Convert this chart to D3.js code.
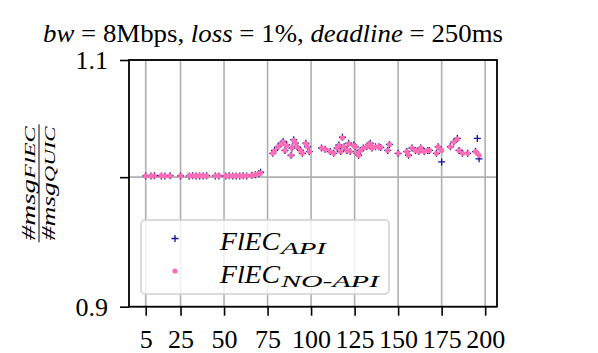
<!DOCTYPE html>
<html>
<head>
<meta charset="utf-8">
<script src="https://cdn.jsdelivr.net/npm/d3@7"></script>
<style>
  body { margin: 0; background: #fff; }
  svg text { font-family: "Liberation Serif", "DejaVu Serif", serif; }
</style>
</head>
<body>
<script>
// message count x values (shared by both series)
var xValues = [5, 8, 10, 14, 16, 19, 25, 30, 32, 34, 36, 38, 40, 45, 47, 51, 53, 55, 57, 59, 61, 63, 66, 68, 70, 71,
  78, 79, 81, 83, 84, 85, 86, 88.5, 89, 90, 91, 92, 94, 95, 97, 98, 99,
  106, 108, 111, 113, 115, 116, 117, 118, 119, 120.6, 121.6, 122.5, 124.5, 125.4, 126.4, 127.3, 128.3, 130, 132, 133, 134, 135, 137, 139, 140,
  144, 145, 150, 155, 156, 158, 160, 162, 163, 165, 167, 168, 172, 173, 175, 180, 182, 184, 185, 187, 190, 194.5, 195.5, 196.5];

var apiValues = [1.001, 1.001, 1.0012, 1.001, 1.001, 1.0012, 1.001, 1.001, 1.0012, 1.001, 1.001, 1.001, 1.0012, 1.001, 1.001, 1.001, 1.0012, 1.001, 1.001, 1.001, 1.0012, 1.001, 1.0015, 1.002, 1.003, 1.004,
  1.0196, 1.022, 1.025, 1.028, 1.0295, 1.022, 1.0265, 1.018, 1.024, 1.031, 1.028, 1.025, 1.022, 1.0196, 1.028, 1.025, 1.021,
  1.024, 1.023, 1.021, 1.0196, 1.024, 1.0265, 1.021, 1.033, 1.025, 1.022, 1.028, 1.021, 1.0265, 1.025, 1.0196, 1.018, 1.022, 1.024, 1.025, 1.0265, 1.028, 1.024, 1.025, 1.025, 1.0245,
  1.022, 1.027, 1.0196, 1.021, 1.018, 1.024, 1.022, 1.021, 1.024, 1.021, 1.022, 1.022, 1.0196, 1.025, 1.0125, 1.025, 1.029, 1.032, 1.022, 1.0196, 1.0196, 1.021, 1.032, 1.015];

var noApiValues = [1.001, 1.001, 1.001, 1.0012, 1.001, 1.001, 1.001, 1.0012, 1.001, 1.001, 1.0012, 1.001, 1.001, 1.001, 1.0012, 1.001, 1.001, 1.001, 1.0012, 1.001, 1.001, 1.0012, 1.0015, 1.002, 1.003, 1.0035,
  1.0196, 1.0215, 1.025, 1.0275, 1.029, 1.022, 1.026, 1.018, 1.024, 1.0305, 1.028, 1.025, 1.022, 1.0196, 1.0275, 1.025, 1.021,
  1.024, 1.023, 1.021, 1.0196, 1.024, 1.026, 1.021, 1.0325, 1.025, 1.022, 1.0275, 1.021, 1.026, 1.025, 1.0196, 1.018, 1.022, 1.024, 1.025, 1.026, 1.0275, 1.024, 1.025, 1.025, 1.0245,
  1.022, 1.027, 1.0196, 1.021, 1.018, 1.024, 1.022, 1.021, 1.024, 1.021, 1.022, 1.022, 1.0196, 1.025, 1.022, 1.025, 1.029, 1.0315, 1.022, 1.0196, 1.0196, 1.021, 1.0196, 1.018];

var xTicks = [5, 25, 50, 75, 100, 125, 150, 175, 200];
var yTicks = [0.9, 1.0, 1.1];
var yTickLabels = ['0.9', '', '1.1'];
var seriesNames = ['API', 'NO-API'];

//setup size
var W = 598, H = 353;
var margin = {top: 60, left: 129, right: 101, bottom: 46};
var width = W - margin.left - margin.right,
    height = H - margin.top - margin.bottom - 0.3;

var blue = '#1010a0', pink = '#ff6eb4';
var serif = '"Liberation Serif", "DejaVu Serif", serif';

var svg = d3.select('body').append('svg')
    .attr('width', W)
    .attr('height', H);

var g = svg.append('g')
    .attr('transform', 'translate(' + margin.left + ',' + margin.top + ')');

//scales
var xScale = d3.scaleLinear().domain([-4.6, 206.8]).range([0, width]);
var yScale = d3.scaleLog().domain([0.9, 1.1]).range([height, 0]);

//grid
g.selectAll('.vgrid').data(xTicks).enter().append('line')
    .attr('x1', function(d) {return xScale(d)}).attr('x2', function(d) {return xScale(d)})
    .attr('y1', 0).attr('y2', height)
    .attr('stroke', '#b0b0b0').attr('stroke-width', 1.6);
g.selectAll('.hgrid').data(yTicks).enter().append('line')
    .attr('x1', 0).attr('x2', width)
    .attr('y1', function(d) {return yScale(d)}).attr('y2', function(d) {return yScale(d)})
    .attr('stroke', '#b0b0b0').attr('stroke-width', 1.6);

//points
var data = xValues.map(function(x, i) {return {x: x, api: apiValues[i], noApi: noApiValues[i]}});

g.selectAll('.api').data(data).enter().append('path')
    .attr('d', 'M-3.5,0H3.5M0,-3.5V3.5')
    .attr('transform', function(d) {return 'translate(' + xScale(d.x) + ',' + yScale(d.api) + ')'})
    .attr('stroke', blue).attr('stroke-width', 1.3).attr('fill', 'none');

g.selectAll('.noapi').data(data).enter().append('circle')
    .attr('cx', function(d) {return xScale(d.x)})
    .attr('cy', function(d) {return yScale(d.noApi)})
    .attr('r', 2.6)
    .attr('fill', pink);

//axes
var xAxis = d3.axisBottom(xScale).tickValues(xTicks).tickSize(9).tickPadding(14);
var yAxis = d3.axisLeft(yScale).tickValues(yTicks).tickSize(9).tickPadding(12)
    .tickFormat(function(d, i) {return yTickLabels[i]});

var gx = g.append('g').attr('transform', 'translate(0,' + height + ')').call(xAxis);
var gy = g.append('g').call(yAxis);
[gx, gy].forEach(function(a) {
    a.attr('font-family', serif).attr('font-size', 26);
    a.select('.domain').remove();
    a.selectAll('line').attr('stroke', '#000').attr('stroke-width', 1.6);
    a.selectAll('text').attr('fill', '#000').attr('font-family', serif);
});

//frame
g.append('rect').attr('width', width).attr('height', height)
    .attr('fill', 'none').attr('stroke', '#000').attr('stroke-width', 1.8);

//legend
var leg = g.append('g').attr('transform', 'translate(' + (141 - margin.left) + ',' + (220 - margin.top) + ')');
leg.append('rect').attr('width', 248).attr('height', 74).attr('rx', 4)
    .attr('fill', '#fff').attr('fill-opacity', 0.8)
    .attr('stroke', '#d0d0d0').attr('stroke-width', 1.5);
leg.append('path').attr('d', 'M30.5,18.5H37.5M34,15V22')
    .attr('stroke', blue).attr('stroke-width', 1.3);
leg.append('circle').attr('cx', 34).attr('cy', 51).attr('r', 2.6).attr('fill', pink);
var subWidths = [45, 98];
seriesNames.forEach(function(name, i) {
    var y = 30 + i * 33;
    leg.append('text').attr('x', 79).attr('y', y).attr('font-family', serif)
        .attr('font-size', 25).attr('font-style', 'italic')
        .attr('textLength', 60).attr('lengthAdjust', 'spacingAndGlyphs').text('FlEC');
    leg.append('text').attr('x', 140).attr('y', y + 4).attr('font-family', serif)
        .attr('font-size', 17).attr('font-style', 'italic')
        .attr('textLength', subWidths[i]).attr('lengthAdjust', 'spacingAndGlyphs').text(name);
});

//title
var title = svg.append('text').attr('x', 43).attr('y', 42).attr('font-family', serif)
    .attr('font-size', 25)
    .attr('textLength', 460).attr('lengthAdjust', 'spacingAndGlyphs');
[['bw', true], [' = 8Mbps, ', false], ['loss', true], [' = 1%, ', false], ['deadline', true], [' = 250ms', false]]
    .forEach(function(p) {
        title.append('tspan').attr('font-style', p[1] ? 'italic' : 'normal').text(p[0]);
    });

//y label as fraction
var yl = svg.append('g').attr('transform', 'translate(39,' + (margin.top + height / 2) + ') rotate(-90)');
yl.append('line').attr('x1', -59).attr('x2', 59).attr('y1', 0).attr('y2', 0)
    .attr('stroke', '#000').attr('stroke-width', 1);
[['FlEC', -4], ['QUIC', 16]].forEach(function(p) {
    var t = yl.append('text').attr('x', -57).attr('y', p[1]).attr('font-family', serif)
        .attr('font-size', 18).attr('font-style', 'italic')
        .attr('textLength', 114).attr('lengthAdjust', 'spacingAndGlyphs');
    t.append('tspan').text('#msg');
    t.append('tspan').attr('font-size', 15).text(p[0]);
});
</script>
</body>
</html>
